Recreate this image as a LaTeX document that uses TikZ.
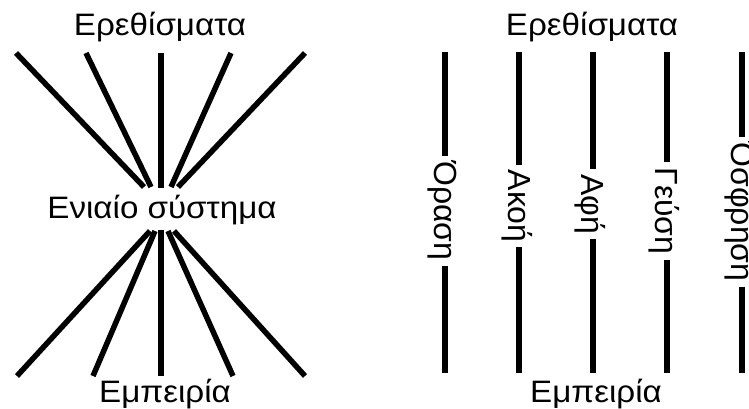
\documentclass[tikz,border=0pt]{standalone}
\usepackage{fontspec}
\setmainfont{Liberation Sans}
\newcommand{\wide}[1]{\scalebox{1.07}[1]{#1}}
\begin{document}
\begin{tikzpicture}[x=1pt,y=-1pt,
  lbl/.style={font=\fontsize{31}{32}\selectfont, inner sep=0pt},
  vlbl/.style={font=\fontsize{32}{32}\selectfont, rotate=-90, inner xsep=5pt, inner ysep=0pt},
  bar/.style={line width=5.5pt}]
\useasboundingbox (0,0) rectangle (749,409);
\begin{scope}
\clip (0,0) rectangle (749,409);
% ---------- left panel ----------
\node[lbl] (stimL) at (160,27) {\wide{Ερεθίσματα}};
\node[lbl] (unity) at (162,210) {\wide{Ενιαίο σύστημα}};
\node[lbl] (expL)  at (165,394) {\wide{Εμπειρία}};
\coordinate (t1) at (16,53);  \coordinate (e1) at (144,187);
\coordinate (t2) at (86,53);  \coordinate (e2) at (151,187);
\coordinate (t3) at (161,53); \coordinate (e3) at (161,188);
\coordinate (t4) at (231,53); \coordinate (e4) at (171,187);
\coordinate (t5) at (305,53); \coordinate (e5) at (178,187);
\foreach \i in {1,...,5} \draw[bar] (t\i) -- (e\i);
\coordinate (b1) at (17,376);  \coordinate (s1) at (150,231);
\coordinate (b2) at (93,376);  \coordinate (s2) at (155,231);
\coordinate (b3) at (161,376); \coordinate (s3) at (161,230);
\coordinate (b4) at (233,376); \coordinate (s4) at (168,231);
\coordinate (b5) at (305,376); \coordinate (s5) at (174,231);
\foreach \i in {1,...,5} \draw[bar] (s\i) -- (b\i);
% ---------- right panel ----------
\node[lbl] (stimR) at (592,27) {\wide{Ερεθίσματα}};
\node[lbl] (expR)  at (596,394) {\wide{Εμπειρία}};
\node[vlbl] (vis) at (442,211) {Όραση};
\node[vlbl] (aud) at (517,206) {Ακοή};
\node[vlbl] (tac) at (590,204) {Αφή};
\node[vlbl] (gus) at (664,211) {Γεύση};
\node[vlbl] (olf) at (739,212) {Όσφρηση};
\foreach \n/\x in {vis/445, aud/519, tac/593, gus/667, olf/742}{
  \coordinate (top\n) at (\x,52);
  \coordinate (bot\n) at (\x,373);
  \draw[bar] (top\n) -- (top\n |- \n.west);
  \draw[bar] (bot\n |- \n.east) -- (bot\n);
}
\end{scope}
\end{tikzpicture}
\end{document}
